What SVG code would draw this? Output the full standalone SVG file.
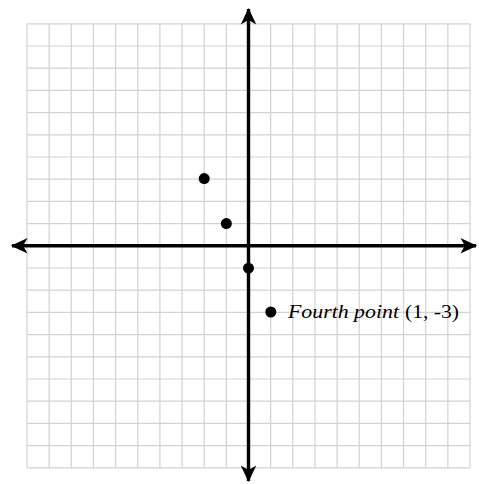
<svg xmlns="http://www.w3.org/2000/svg" width="479" height="484" viewBox="0 0 479 484">
<style>
.grid{fill:none;stroke:#d2d2d2;stroke-width:1.2}
.axis{fill:none;stroke:#000;stroke-width:3.4}
.pt{fill:#000}
.lbl{font-family:"Liberation Serif",serif;font-size:18.5px;fill:#000}
</style>
<defs>
<marker id="ah" markerUnits="userSpaceOnUse" markerWidth="20" markerHeight="20" viewBox="-16 -8 18 16" refX="0" refY="0" orient="auto-start-reverse">
<path d="M1,0 L-14,-7 L-10,0 L-14,7 Z" fill="#000"/>
</marker>
</defs>
<rect width="479" height="484" fill="#fff"/>
<g id="grid">
<path class="grid" d="M27,23.8V467.8M49.15,23.8V467.8M71.3,23.8V467.8M93.45,23.8V467.8M115.6,23.8V467.8M137.75,23.8V467.8M159.9,23.8V467.8M182.05,23.8V467.8M204.2,23.8V467.8M226.35,23.8V467.8M248.5,23.8V467.8M270.65,23.8V467.8M292.8,23.8V467.8M314.95,23.8V467.8M337.1,23.8V467.8M359.25,23.8V467.8M381.4,23.8V467.8M403.55,23.8V467.8M425.7,23.8V467.8M447.85,23.8V467.8M470,23.8V467.8"/>
<path class="grid" d="M27,23.8H470M27,46H470M27,68.2H470M27,90.4H470M27,112.6H470M27,134.8H470M27,157H470M27,179.2H470M27,201.4H470M27,223.6H470M27,245.8H470M27,268H470M27,290.2H470M27,312.4H470M27,334.6H470M27,356.8H470M27,379H470M27,401.2H470M27,423.4H470M27,445.6H470M27,467.8H470"/>
</g>
<g id="connectors">
<line class="axis" x1="12" y1="245.8" x2="476" y2="245.8" marker-start="url(#ah)" marker-end="url(#ah)"/>
<line class="axis" x1="248.5" y1="9" x2="248.5" y2="481" marker-start="url(#ah)" marker-end="url(#ah)"/>
</g>
<g id="p1"><circle class="pt" cx="204.2" cy="178.6" r="5.5"/></g>
<g id="p2"><circle class="pt" cx="226.35" cy="223.6" r="5.5"/></g>
<g id="p3"><circle class="pt" cx="248.5" cy="268.2" r="5.5"/></g>
<g id="p4"><circle class="pt" cx="270.8" cy="312" r="5.5"/>
<text class="lbl" x="288" y="318"><tspan font-style="italic" textLength="111" lengthAdjust="spacingAndGlyphs">Fourth point</tspan><tspan x="405" textLength="54" lengthAdjust="spacingAndGlyphs">(1, -3)</tspan></text>
</g>
</svg>
